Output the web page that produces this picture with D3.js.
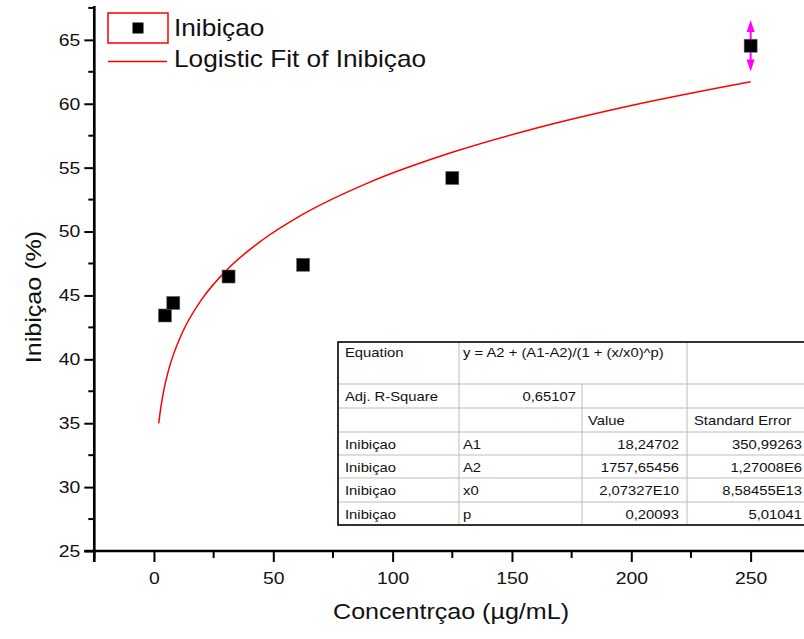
<!DOCTYPE html>
<html>
<head>
<meta charset="utf-8">
<script src="https://cdn.jsdelivr.net/npm/d3@7"></script>
<style>
  body { margin: 0; background: #fff; }
  svg { display: block; font-family: "Liberation Sans", Arial, sans-serif; }
</style>
</head>
<body>
<div class="chart"></div>
<script>
// measured points
var concX = [4.6, 8.1, 31.25, 62.5, 125, 250];
var inhib = [43.43, 44.41, 46.48, 47.4, 54.19, 64.54];
var inhibErr = [0, 0, 0, 0, 0, 2.02];

// fitted curve
var fitX = [2, 3, 4, 5, 7, 8, 12, 20, 31.25, 45, 62.5, 90, 125, 160, 200, 250];
var fitY = [34.99, 36.39, 37.46, 38.33, 39.72, 40.29, 42.14, 44.69, 47.13, 49.28, 51.36, 53.83, 56.20, 58.09, 59.87, 61.73];

var xTicks = [0, 50, 100, 150, 200, 250];
var xMinor = [-25, 25, 75, 125, 175, 225, 275];
var yTicks = [25, 30, 35, 40, 45, 50, 55, 60, 65];
var yMinor = [27.5, 32.5, 37.5, 42.5, 47.5, 52.5, 57.5, 62.5, 67.5];

var legendLabels = ["Inibiçao", "Logistic Fit of Inibiçao"];

// fit report table
var equationText = "y = A2 + (A1-A2)/(1 + (x/x0)^p)";
var adjR2 = "0,65107";
var paramNames = ["A1", "A2", "x0", "p"];
var paramValues = ["18,24702", "1757,65456", "2,07327E10", "0,20093"];
var paramErrors = ["350,99263", "1,27008E6", "8,58455E13", "5,01041"];

var width = 804, height = 639;
var sx = 1.14; // text looks horizontally stretched

var svg = d3.select(".chart").append("svg")
  .attr("width", width)
  .attr("height", height);

var x = d3.scaleLinear().domain([-25, 275]).range([94.3, 810.3]);
var y = d3.scaleLinear().domain([25, 67.65]).range([551, 6]);

function stext(g, px, py, str, size, anchor) {
  return g.append("text")
    .attr("transform", "translate(" + px + "," + py + ") scale(" + sx + ",1)")
    .attr("text-anchor", anchor || "start")
    .attr("font-size", size + "px")
    .attr("fill", "#111")
    .text(str);
}

// axes
var xAxis = svg.append("g")
  .attr("transform", "translate(0," + y(25) + ")")
  .call(d3.axisBottom(x).tickValues(xTicks).tickSize(11).tickSizeOuter(0));
xAxis.select(".domain").remove();
xAxis.selectAll(".tick line").attr("stroke", "#000").attr("stroke-width", 2);
xAxis.selectAll(".tick text")
  .attr("y", 33).attr("dy", null)
  .attr("font-size", "17px").attr("fill", "#111")
  .attr("font-family", "Liberation Sans, Arial, sans-serif")
  .attr("transform", "scale(" + sx + ",1)");

svg.selectAll(".xminor").data(xMinor).enter().append("line")
  .attr("x1", function(d) { return x(d); }).attr("x2", function(d) { return x(d); })
  .attr("y1", y(25)).attr("y2", y(25) + 7)
  .attr("stroke", "#000").attr("stroke-width", 2);

var yAxis = svg.append("g")
  .attr("transform", "translate(" + x(-25) + ",0)")
  .call(d3.axisLeft(y).tickValues(yTicks).tickSize(10).tickSizeOuter(0));
yAxis.select(".domain").remove();
yAxis.selectAll(".tick line").attr("stroke", "#000").attr("stroke-width", 2);
yAxis.selectAll(".tick text")
  .attr("x", -14 / sx)
  .attr("font-size", "17px").attr("fill", "#111")
  .attr("font-family", "Liberation Sans, Arial, sans-serif")
  .attr("transform", "scale(" + sx + ",1)");

svg.selectAll(".yminor").data(yMinor).enter().append("line")
  .attr("x1", x(-25)).attr("x2", x(-25) - 6)
  .attr("y1", function(d) { return y(d); }).attr("y2", function(d) { return y(d); })
  .attr("stroke", "#000").attr("stroke-width", 2);

svg.append("line")
  .attr("x1", x(-25) - 10).attr("x2", x(275))
  .attr("y1", y(25)).attr("y2", y(25))
  .attr("stroke", "#000").attr("stroke-width", 2.7);
svg.append("line")
  .attr("x1", x(-25)).attr("x2", x(-25))
  .attr("y1", y(67.65)).attr("y2", y(25) + 11)
  .attr("stroke", "#000").attr("stroke-width", 2.7);

// axis titles
stext(svg, 451, 619, "Concentrçao (µg/mL)", 22, "middle");
svg.append("text")
  .attr("transform", "translate(41,297) rotate(-90) scale(" + sx + ",1)")
  .attr("text-anchor", "middle")
  .attr("font-size", "22px")
  .attr("fill", "#111")
  .text("Inibiçao (%)");

// fit curve
var fitPts = fitX.map(function(d, i) { return [d, fitY[i]]; });
var line = d3.line()
  .x(function(d) { return x(d[0]); })
  .y(function(d) { return y(d[1]); })
  .curve(d3.curveMonotoneX);
svg.append("path")
  .datum(fitPts)
  .attr("d", line)
  .attr("fill", "none")
  .attr("stroke", "#ff0000")
  .attr("stroke-width", 1.5);

// error bars (magenta arrows)
var errData = concX.map(function(d, i) { return {x: d, y: inhib[i], e: inhibErr[i]}; })
  .filter(function(d) { return d.e > 0; });
var eg = svg.selectAll(".err").data(errData).enter().append("g");
eg.append("line")
  .attr("x1", function(d) { return x(d.x); }).attr("x2", function(d) { return x(d.x); })
  .attr("y1", function(d) { return y(d.y + d.e) + 4; })
  .attr("y2", function(d) { return y(d.y - d.e) - 4; })
  .attr("stroke", "#ff00ff").attr("stroke-width", 2);
eg.append("path")
  .attr("d", function(d) {
    var cx = x(d.x), t = y(d.y + d.e);
    return "M" + cx + "," + t + "L" + (cx + 4) + "," + (t + 12) + "L" + (cx - 4) + "," + (t + 12) + "Z";
  })
  .attr("fill", "#ff00ff");
eg.append("path")
  .attr("d", function(d) {
    var cx = x(d.x), b = y(d.y - d.e);
    return "M" + cx + "," + b + "L" + (cx + 4) + "," + (b - 12) + "L" + (cx - 4) + "," + (b - 12) + "Z";
  })
  .attr("fill", "#ff00ff");

// data markers
var ms = 13;
svg.selectAll(".pt").data(concX).enter().append("rect")
  .attr("x", function(d) { return x(d) - ms / 2; })
  .attr("y", function(d, i) { return y(inhib[i]) - ms / 2; })
  .attr("width", ms).attr("height", ms)
  .attr("fill", "#000")
  .attr("stroke", "#666").attr("stroke-width", 0.6);

// redraw error bar stem over marker
eg.append("line")
  .attr("x1", function(d) { return x(d.x); }).attr("x2", function(d) { return x(d.x); })
  .attr("y1", function(d) { return y(d.y) - ms / 2; })
  .attr("y2", function(d) { return y(d.y) + ms / 2; })
  .attr("stroke", "#ff00ff").attr("stroke-width", 2);

// legend
var lg = svg.append("g");
lg.append("rect")
  .attr("x", 108).attr("y", 13).attr("width", 60).attr("height", 30)
  .attr("fill", "none").attr("stroke", "#ff0000").attr("stroke-width", 1.5);
lg.append("rect")
  .attr("x", 132.5).attr("y", 22.5).attr("width", 11).attr("height", 11)
  .attr("fill", "#000");
lg.append("line")
  .attr("x1", 108).attr("x2", 167).attr("y1", 61.5).attr("y2", 61.5)
  .attr("stroke", "#ff0000").attr("stroke-width", 1.5);
stext(lg, 174, 36, legendLabels[0], 23);
stext(lg, 174, 67, legendLabels[1], 23);

// fit table
var cols = [338, 459, 582, 687, 810];
var rows = [342, 384, 408, 432, 455, 478, 502, 525];
var tg = svg.append("g");
tg.append("rect")
  .attr("x", cols[0]).attr("y", rows[0])
  .attr("width", cols[4] - cols[0]).attr("height", rows[7] - rows[0])
  .attr("fill", "#fff");

var hLines = rows.slice(1, 7);
tg.selectAll(".hl").data(hLines).enter().append("line")
  .attr("x1", cols[0]).attr("x2", cols[4])
  .attr("y1", function(d) { return d; }).attr("y2", function(d) { return d; })
  .attr("stroke", "#bdbdbd").attr("stroke-width", 1);
// vertical lines: [x, yStart, yEnd]
var vLines = [[cols[1], rows[0], rows[7]], [cols[2], rows[1], rows[7]], [cols[3], rows[0], rows[7]]];
tg.selectAll(".vl").data(vLines).enter().append("line")
  .attr("x1", function(d) { return d[0]; }).attr("x2", function(d) { return d[0]; })
  .attr("y1", function(d) { return d[1]; }).attr("y2", function(d) { return d[2]; })
  .attr("stroke", "#bdbdbd").attr("stroke-width", 1);
tg.append("rect")
  .attr("x", cols[0]).attr("y", rows[0])
  .attr("width", cols[4] - cols[0]).attr("height", rows[7] - rows[0])
  .attr("fill", "none").attr("stroke", "#000").attr("stroke-width", 1.6);

var fs = 13;
stext(tg, cols[0] + 7, rows[0] + 15, "Equation", fs);
stext(tg, cols[1] + 4, rows[0] + 15, equationText, fs);
stext(tg, cols[0] + 7, rows[1] + 16.5, "Adj. R-Square", fs);
stext(tg, cols[2] - 6, rows[1] + 16.5, adjR2, fs, "end");
stext(tg, cols[2] + 6, rows[2] + 16.5, "Value", fs);
stext(tg, cols[3] + 7, rows[2] + 16.5, "Standard Error", fs);
paramNames.forEach(function(p, i) {
  var by = rows[3 + i] + 16.5;
  stext(tg, cols[0] + 7, by, "Inibiçao", fs);
  stext(tg, cols[1] + 4, by, p, fs);
  stext(tg, cols[3] - 8, by, paramValues[i], fs, "end");
  stext(tg, 802, by, paramErrors[i], fs, "end");
});
</script>
</body>
</html>
